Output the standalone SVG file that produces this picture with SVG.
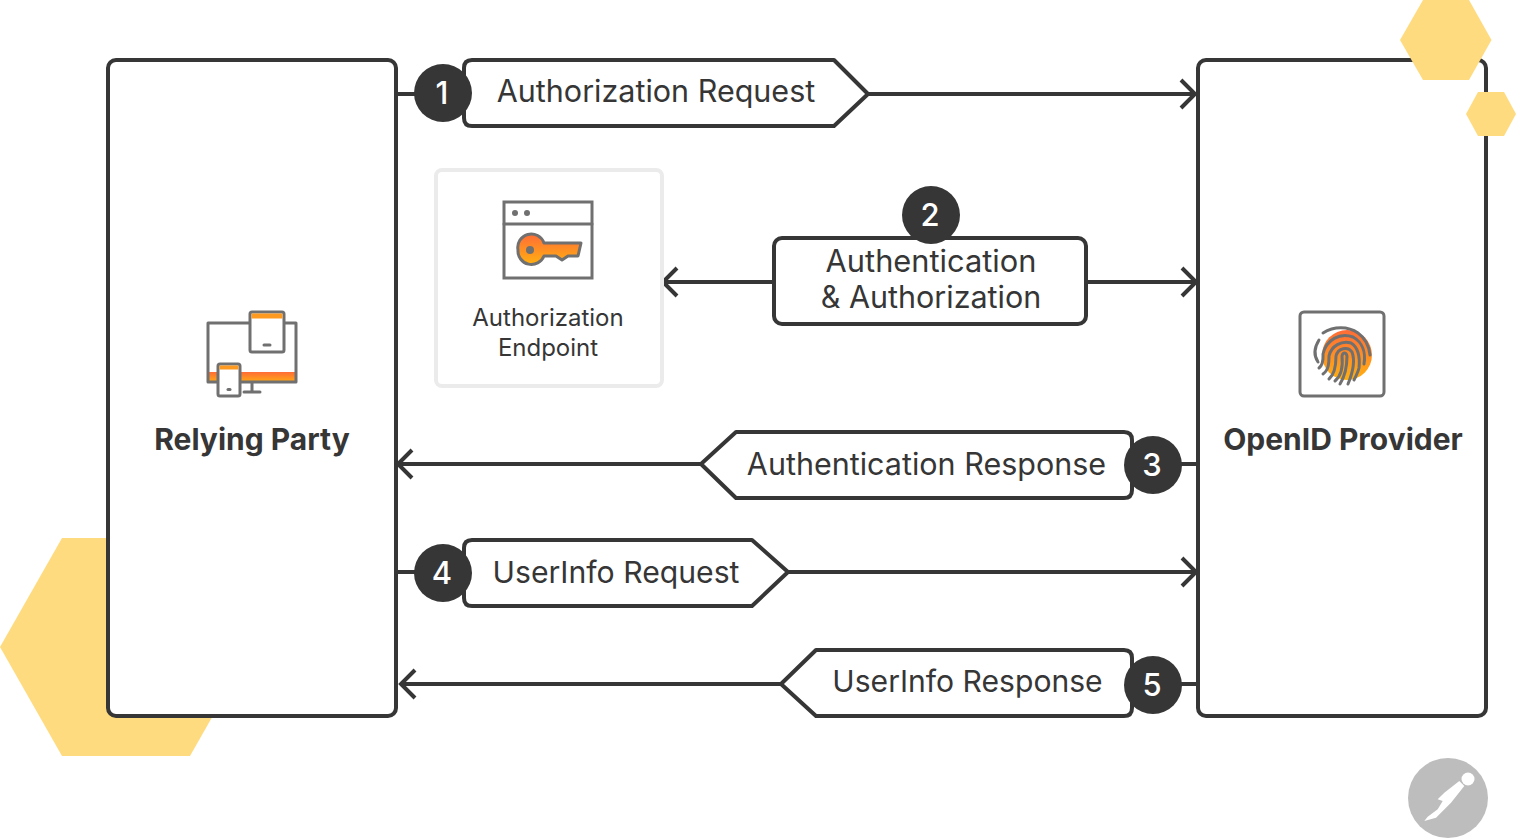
<svg xmlns="http://www.w3.org/2000/svg" width="1516" height="838" viewBox="0 0 1516 838">
<style>
text{font-family:Inter,"Liberation Sans",sans-serif;fill:#363636}
.box{fill:#fff;stroke:#363636;stroke-width:4;stroke-linejoin:round}
.lbl{font-size:30.5px;text-anchor:middle}
.num{font-size:31px;font-weight:500;fill:#fff;text-anchor:middle}
.dot{fill:#363636}
.con{fill:none;stroke:#363636;stroke-width:4}
.hex{fill:#ffdb80}
.ic{fill:none;stroke:#707070;stroke-width:3;stroke-linejoin:round;stroke-linecap:round}
</style>
<defs>
<linearGradient id="g" x1="0" y1="0" x2="0" y2="1"><stop offset="0" stop-color="#ff6c37"/><stop offset="1" stop-color="#ffb010"/></linearGradient>
<marker id="a" markerUnits="userSpaceOnUse" markerWidth="20" markerHeight="32" refX="15" refY="16" orient="auto" overflow="visible"><path d="M2 2L16 16L2 30" fill="none" stroke="#363636" stroke-width="4"/></marker>
</defs>
<rect width="1516" height="838" fill="#fff"/>
<path class="hex" d="M62 538H190L252 647L190 756H62L0 647Z"/>
<g id="relying-party">
<rect class="box" x="108" y="60" width="288" height="656" rx="8"/>
<path d="M209 372H296V383H209Z" fill="url(#g)"/>
<path class="ic" d="M250 323H208V382H296V323H284"/>
<path class="ic" d="M252 383V392M244 392H260"/>
<rect x="250" y="312" width="34" height="40" rx="2" fill="#fff" stroke="#707070" stroke-width="3"/>
<rect x="251.500" y="313.500" width="31" height="5" fill="#ff9a20"/>
<path class="ic" d="M264 345H270"/>
<rect x="218" y="364" width="22" height="32" rx="2" fill="#fff" stroke="#707070" stroke-width="3"/>
<rect x="219.500" y="365.500" width="19" height="4" fill="#ff9a20"/>
<path class="ic" d="M228 389.500H230"/>
<text x="252" y="450" font-size="30" font-weight="700" text-anchor="middle">Relying Party</text>
</g>
<g id="openid-provider">
<rect class="box" x="1198" y="60" width="288" height="656" rx="8"/>
<rect x="1300" y="312" width="84" height="84" rx="4" fill="#fff" stroke="#707070" stroke-width="3"/>
<circle cx="1347" cy="355" r="25" fill="url(#g)"/>
<g class="ic">
<path d="M1319 340C1314 348 1314 356 1318 362"/>
<path d="M1323 333C1334 326 1348 326 1358 333C1365 338 1369 346 1370 355"/>
<path d="M1319 368C1324 364 1323 358 1323 354C1326 340 1340 332 1353 337C1362 342 1366 352 1364 364"/>
<path d="M1323 374C1329 370 1329 362 1329 356C1331 346 1342 340 1351 343C1359 348 1360 358 1359 368C1358 372 1356 376 1354 380"/>
<path d="M1329 379C1335 374 1336 364 1336 356C1338 348 1348 346 1352 352C1355 360 1353 372 1348 384"/>
<path d="M1335 381C1341 376 1343 366 1342 356C1343 352 1346 352 1347 356C1347 366 1345 376 1340 384"/>
</g>
<text x="1343" y="450" font-size="30" font-weight="700" text-anchor="middle">OpenID Provider</text>
</g>
<path class="hex" d="M1423 0H1469L1491.500 40L1469 80H1423L1400 40Z"/>
<path class="hex" d="M1478 92H1504L1516 114L1504 136H1478L1466 114Z"/>
<g id="connectors">
<path class="con" d="M398 94H444"/>
<path class="con" d="M868 94H1194" marker-end="url(#a)"/>
<path class="con" d="M776 282H664" marker-end="url(#a)"/>
<path class="con" d="M1086 282H1195" marker-end="url(#a)"/>
<path class="con" d="M702 464H399" marker-end="url(#a)"/>
<path class="con" d="M1150 464H1198"/>
<path class="con" d="M398 572H444"/>
<path class="con" d="M788 572H1195" marker-end="url(#a)"/>
<path class="con" d="M782 684H402" marker-end="url(#a)"/>
<path class="con" d="M1150 684H1198"/>
</g>
<g id="authorization-endpoint">
<rect x="436" y="170" width="226" height="216" rx="6" fill="#fff" stroke="#ebebeb" stroke-width="4"/>
<rect x="504" y="202" width="88" height="76" fill="#fff" stroke="#707070" stroke-width="3"/>
<path class="ic" d="M504 224H592"/>
<circle cx="515" cy="213" r="3" fill="#707070"/><circle cx="527" cy="213" r="3" fill="#707070"/>
<path d="M518 250A13.500 13.500 0 0 1 544 243H581L578 256H568L562 260L556 256H544A13.500 13.500 0 0 1 518 250Z" fill="url(#g)" stroke="#707070" stroke-width="3" stroke-linejoin="round"/>
<circle cx="530" cy="250" r="4" fill="#707070"/>
<text x="548" y="326" font-size="24" text-anchor="middle">Authorization</text>
<text x="548" y="356" font-size="24" text-anchor="middle">Endpoint</text>
</g>
<g id="step-1">
<path class="box" d="M472 60H834L868 94L834 126H472Q464 126 464 118V68Q464 60 472 60Z"/>
<circle class="dot" cx="443" cy="93" r="29"/>
<text class="num" x="442" y="104">1</text>
<text class="lbl" x="656" y="102">Authorization Request</text>
</g>
<g id="step-2">
<rect class="box" x="774" y="238" width="312" height="86" rx="8"/>
<circle class="dot" cx="931" cy="215" r="29"/>
<text class="num" x="930" y="226">2</text>
<text class="lbl" x="931" y="272" style="font-size:30.8px">Authentication</text>
<text class="lbl" x="931" y="308">&amp; Authorization</text>
</g>
<g id="step-3">
<path class="box" d="M736 432H1124Q1132 432 1132 440V490Q1132 498 1124 498H736L701 464Z"/>
<circle class="dot" cx="1153" cy="465" r="29"/>
<text class="num" x="1152" y="476">3</text>
<text class="lbl" x="926.500" y="475">Authentication Response</text>
</g>
<g id="step-4">
<path class="box" d="M472 540H752L788 572L752 606H472Q464 606 464 598V548Q464 540 472 540Z"/>
<circle class="dot" cx="443" cy="573" r="29"/>
<text class="num" x="442" y="584">4</text>
<text class="lbl" x="616" y="583" style="font-size:30.2px">UserInfo Request</text>
</g>
<g id="step-5">
<path class="box" d="M816 650H1124Q1132 650 1132 658V708Q1132 716 1124 716H816L781 684Z"/>
<circle class="dot" cx="1153" cy="685" r="29"/>
<text class="num" x="1152" y="696">5</text>
<text class="lbl" x="967.500" y="692" style="font-size:30.1px">UserInfo Response</text>
</g>
<g id="logo">
<circle cx="1448" cy="798" r="40" fill="#bdbdbd"/>
<circle cx="1468" cy="779" r="6.500" fill="#fff"/>
<path d="M1459.300 781L1464.300 786L1451 802.700L1436 817.700L1424.300 821L1427.700 816.700L1437.700 809.300L1442.700 801L1437.700 799.300L1444.300 792.700Z" fill="#fff"/>
</g>
</svg>
